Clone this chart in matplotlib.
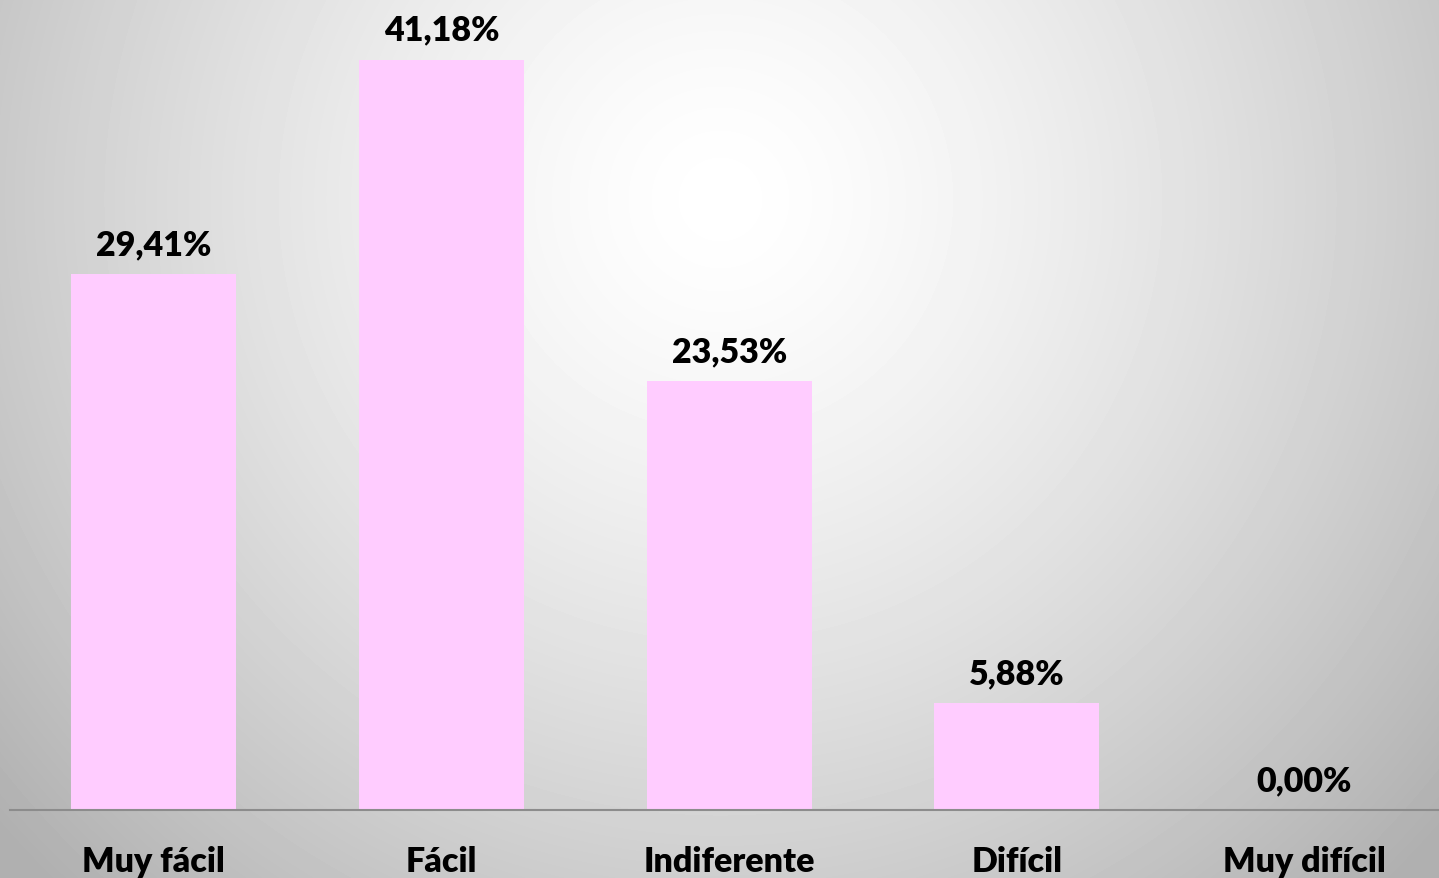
import numpy as np
import matplotlib
matplotlib.use("Agg")
import matplotlib.pyplot as plt

categories = ["Muy fácil", "Fácil", "Indiferente", "Difícil", "Muy difícil"]
values = [29.41, 41.18, 23.53, 5.88, 0.00]
labels = ["29,41%", "41,18%", "23,53%", "5,88%", "0,00%"]

W, H = 1439, 879
fig = plt.figure(figsize=(W / 100, H / 100), dpi=100)

# radial gradient background
bg = fig.add_axes([0, 0, 1, 1])
yy, xx = np.mgrid[0:H, 0:W]
r = np.sqrt((xx - 720) ** 2 + (yy - 200) ** 2)
v = np.clip(1 - 0.22 * (r / 747.0) ** 1.4, 0.69, 1.0)
bg.imshow(v, cmap="gray", vmin=0, vmax=1, aspect="auto", extent=[0, W, H, 0])
bg.set_axis_off()

ax = fig.add_axes([10 / W, 68 / H, 1429 / W, 811 / H])
ax.patch.set_alpha(0)
x = np.arange(len(categories))
ax.bar(x, values, width=0.574, color="#FFCCFF", zorder=2)
ax.set_xlim(-0.5, (1439 - 154.5) / 287.5)
ax.set_ylim(0, 811 / 18.22)
for s in ["top", "right", "left"]:
    ax.spines[s].set_visible(False)
ax.spines["bottom"].set_color("#8c8c8c")
ax.spines["bottom"].set_linewidth(1.5)
ax.set_yticks([])
ax.set_xticks([])

font = dict(fontfamily="Lato", fontweight="heavy", fontsize=24.5)
for xi, val, lab, cat in zip(x, values, labels, categories):
    ax.annotate(lab, (xi, val), xytext=(0, 14.4), textcoords="offset points",
                ha="center", va="baseline", **font)
    ax.annotate(cat, (xi, 0), xytext=(0, -43.9), textcoords="offset points",
                ha="center", va="baseline", annotation_clip=False, **font)

fig.savefig("out.png", dpi=100)
